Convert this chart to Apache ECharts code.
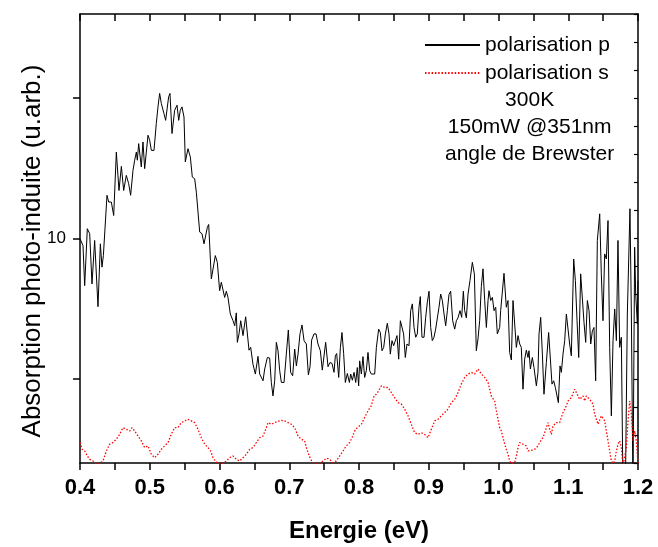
<!DOCTYPE html>
<html>
<head>
<meta charset="utf-8">
<script src="https://cdn.jsdelivr.net/npm/echarts@6/dist/echarts.min.js"></script>
<style>
  html, body { margin: 0; padding: 0; background: #fff; }
  #chart { width: 658px; height: 547px; }
</style>
</head>
<body>
<div id="chart"></div>
<script>
// photon energy (eV) and photo-induced absorption (arb. units), p polarisation
const energyP = [
  0.4000, 0.4043, 0.4067, 0.4091, 0.4105, 0.4139, 0.4172, 0.4210, 0.4258, 0.4292,
  0.4315, 0.4335, 0.4354, 0.4387, 0.4411, 0.4449, 0.4483, 0.4521, 0.4545, 0.4559,
  0.4593, 0.4626, 0.4664, 0.4698, 0.4726, 0.4760, 0.4784, 0.4808, 0.4822, 0.4841,
  0.4865, 0.4879, 0.4903, 0.4927, 0.4951, 0.4975, 0.4999, 0.5023, 0.5061, 0.5094,
  0.5118, 0.5142, 0.5166, 0.5204, 0.5228, 0.5252, 0.5271, 0.5290, 0.5319, 0.5357,
  0.5391, 0.5415, 0.5438, 0.5462, 0.5491, 0.5510, 0.5548, 0.5582, 0.5610, 0.5644,
  0.5668, 0.5692, 0.5716, 0.5749, 0.5778, 0.5802, 0.5826, 0.5845, 0.5883, 0.5907,
  0.5940, 0.5969, 0.6002,
  0.6026, 0.6050, 0.6074, 0.6098, 0.6122, 0.6155, 0.6194, 0.6218, 0.6241, 0.6256,
  0.6280, 0.6304, 0.6337, 0.6375, 0.6423, 0.6447, 0.6480, 0.6514, 0.6552, 0.6576,
  0.6600, 0.6624, 0.6648, 0.6686, 0.6719, 0.6743, 0.6767, 0.6791, 0.6815, 0.6839,
  0.6863, 0.6887, 0.6925, 0.6958, 0.6987, 0.7020, 0.7049, 0.7078, 0.7102, 0.7126,
  0.7154, 0.7183, 0.7212, 0.7245, 0.7274, 0.7298, 0.7321, 0.7355, 0.7384, 0.7412,
  0.7446, 0.7474, 0.7498, 0.7522, 0.7556, 0.7584, 0.7613, 0.7642, 0.7661, 0.7680,
  0.7709, 0.7733, 0.7756, 0.7780, 0.7804, 0.7833, 0.7862, 0.7881, 0.7905, 0.7929,
  0.7953, 0.7976, 0.7995,
  0.8010, 0.8034, 0.8057, 0.8081, 0.8105, 0.8129, 0.8153, 0.8177, 0.8201, 0.8225,
  0.8249, 0.8282, 0.8306, 0.8330, 0.8354, 0.8378, 0.8406, 0.8430, 0.8449, 0.8473,
  0.8497, 0.8521, 0.8545, 0.8569, 0.8593, 0.8617, 0.8640, 0.8664, 0.8688, 0.8717,
  0.8741, 0.8765, 0.8789, 0.8813, 0.8836, 0.8860, 0.8879, 0.8903, 0.8932, 0.8956,
  0.8980, 0.9004, 0.9028, 0.9051, 0.9075, 0.9099, 0.9123, 0.9147, 0.9171, 0.9195,
  0.9219, 0.9243, 0.9267, 0.9290, 0.9314, 0.9343, 0.9372, 0.9396, 0.9419, 0.9448,
  0.9472, 0.9496, 0.9515, 0.9539, 0.9563, 0.9591, 0.9625, 0.9654, 0.9682, 0.9706,
  0.9730, 0.9754, 0.9778, 0.9802, 0.9826, 0.9850, 0.9864, 0.9888, 0.9912, 0.9936,
  0.9960, 0.9983, 1.0017,
  1.0031, 1.0079, 1.0112, 1.0136, 1.0160, 1.0184, 1.0208, 1.0232, 1.0256, 1.0280,
  1.0304, 1.0327, 1.0351, 1.0375, 1.0399, 1.0423, 1.0437, 1.0457, 1.0485, 1.0509,
  1.0543, 1.0566, 1.0581, 1.0605, 1.0629, 1.0652, 1.0686, 1.0719, 1.0743, 1.0767,
  1.0791, 1.0815, 1.0839, 1.0858, 1.0882, 1.0901, 1.0925, 1.0949, 1.0973, 1.0997,
  1.1020, 1.1044, 1.1078, 1.1102, 1.1126, 1.1150, 1.1178, 1.1197, 1.1226, 1.1250,
  1.1274, 1.1298, 1.1322, 1.1346, 1.1369, 1.1393, 1.1417, 1.1451, 1.1474, 1.1498,
  1.1522, 1.1546, 1.1570, 1.1594, 1.1618, 1.1642, 1.1666, 1.1690, 1.1713, 1.1737,
  1.1761, 1.1785, 1.1819, 1.1847, 1.1885, 1.1905, 1.1928, 1.1952, 1.1967, 1.1991,
  1.2000
];
const absP = [
  9.99, 9.75, 8.32, 8.26, 10.35, 10.17, 8.38, 9.93, 7.57, 9.81,
  8.98, 9.39, 9.39, 11.54, 11.30, 11.30, 10.82, 13.08, 13.08, 11.71,
  12.57, 11.71, 12.25, 11.95, 11.54, 12.43, 12.79, 13.08, 12.79, 13.38,
  13.38, 12.55, 13.44, 12.49, 13.08, 13.68, 13.50, 13.14, 13.14, 14.10,
  14.69, 15.17, 14.81, 14.45, 14.21, 14.21, 15.05, 15.17, 13.74, 14.57,
  14.75, 14.21, 14.57, 14.69, 14.33, 12.73, 13.20, 12.90, 12.19, 12.13,
  11.65, 11.60, 10.23, 10.17, 9.81, 9.81, 10.40, 10.50, 8.56, 8.62,
  9.39, 9.15, 8.14,
  8.44, 8.38, 7.90, 8.12, 7.90, 7.31, 7.07, 6.89, 7.35, 6.30,
  6.60, 7.07, 6.54, 7.21, 6.02, 6.12, 5.52, 5.17, 5.80, 5.17,
  5.11, 4.93, 5.35, 5.76, 5.74, 4.87, 4.39, 4.93, 6.30, 6.00,
  5.29, 4.87, 4.87, 5.88, 6.74, 5.23, 5.11, 6.06, 5.46, 5.88,
  6.60, 6.92, 6.36, 6.24, 5.14, 5.43, 6.38, 6.60, 6.60, 6.24,
  6.00, 5.31, 5.35, 6.30, 5.43, 5.58, 5.55, 5.23, 5.82, 5.90,
  5.05, 6.12, 6.65, 5.90, 4.87, 5.19, 4.87, 5.17, 4.95, 5.23,
  4.87, 5.40, 4.75,
  5.64, 5.17, 5.79, 5.05, 5.29, 5.94, 5.29, 5.17, 5.23, 5.17,
  6.12, 6.77, 6.65, 6.00, 6.12, 6.60, 6.98, 6.60, 5.88, 6.36,
  6.18, 6.12, 6.54, 5.70, 7.07, 7.13, 6.60, 5.76, 6.24, 6.18,
  7.43, 7.67, 6.83, 6.48, 6.60, 7.55, 7.93, 6.48, 6.48, 7.19,
  7.73, 8.12, 6.83, 6.36, 6.48, 6.77, 6.77, 7.55, 8.02, 7.79,
  7.31, 6.89, 7.43, 8.00, 8.12, 7.07, 6.77, 7.07, 7.17, 7.43,
  7.19, 8.12, 7.43, 7.17, 8.02, 8.50, 9.15, 8.74, 6.00, 6.42,
  7.07, 8.29, 8.92, 7.79, 6.83, 7.79, 8.14, 7.79, 7.90, 7.43,
  7.55, 6.60, 6.83,
  7.43, 8.76, 7.55, 7.79, 5.94, 5.67, 7.79, 7.85, 6.12, 6.54,
  6.24, 6.12, 4.63, 5.70, 6.02, 5.76, 6.00, 5.35, 5.76, 5.40,
  4.75, 5.23, 6.60, 7.19, 5.88, 4.45, 5.58, 6.65, 6.60, 4.81,
  4.93, 4.69, 4.63, 4.15, 5.46, 5.23, 5.88, 6.36, 7.31, 7.33,
  6.24, 5.82, 9.27, 8.50, 7.07, 5.76, 8.74, 8.80, 7.01, 6.30,
  7.79, 7.43, 6.24, 6.71, 6.83, 4.93, 9.93, 10.88, 8.74, 7.07,
  9.45, 9.27, 10.64, 6.12, 3.68, 6.36, 7.49, 6.36, 9.93, 6.12,
  6.48, 1.00, 1.00, 7.31, 11.06, 7.31, 1.00, 9.69, 8.02, 6.95,
  8.50
];

// s polarisation
const energyS = [
  0.4000, 0.4029, 0.4067, 0.4105, 0.4139, 0.4186, 0.4234, 0.4282, 0.4330, 0.4378,
  0.4425, 0.4473, 0.4521, 0.4569, 0.4616, 0.4664, 0.4712, 0.4746, 0.4784, 0.4832,
  0.4879, 0.4927, 0.4975, 0.5023, 0.5070, 0.5118, 0.5166, 0.5214, 0.5262, 0.5309,
  0.5357, 0.5405, 0.5453, 0.5501, 0.5548, 0.5596, 0.5644, 0.5692, 0.5740, 0.5787,
  0.5835, 0.5873, 0.5907, 0.5940, 0.5978,
  0.6002, 0.6050, 0.6098, 0.6146, 0.6194, 0.6241, 0.6289, 0.6337, 0.6385, 0.6433,
  0.6480, 0.6528, 0.6576, 0.6624, 0.6672, 0.6695, 0.6743, 0.6791, 0.6839, 0.6887,
  0.6934, 0.6982, 0.7030, 0.7078, 0.7126, 0.7173, 0.7221, 0.7245, 0.7269, 0.7307,
  0.7341, 0.7388, 0.7436, 0.7484, 0.7532, 0.7580, 0.7627, 0.7675, 0.7723, 0.7771,
  0.7818, 0.7866, 0.7900, 0.7938, 0.7976,
  0.8034, 0.8081, 0.8129, 0.8177, 0.8215, 0.8249, 0.8282, 0.8320, 0.8368, 0.8416,
  0.8464, 0.8511, 0.8559, 0.8607, 0.8655, 0.8703, 0.8750, 0.8798, 0.8846, 0.8894,
  0.8941, 0.8989, 0.9037, 0.9085, 0.9133, 0.9180, 0.9228, 0.9276, 0.9324, 0.9372,
  0.9419, 0.9467, 0.9515, 0.9563, 0.9611, 0.9658, 0.9706, 0.9754, 0.9802, 0.9850,
  0.9897, 0.9945, 0.9983, 1.0017,
  1.0041, 1.0065, 1.0089, 1.0112, 1.0136, 1.0160, 1.0184, 1.0208, 1.0232, 1.0256,
  1.0280, 1.0304, 1.0327, 1.0351, 1.0375, 1.0399, 1.0423, 1.0447, 1.0471, 1.0495,
  1.0519, 1.0543, 1.0566, 1.0590, 1.0614, 1.0638, 1.0662, 1.0686, 1.0710, 1.0734,
  1.0758, 1.0781, 1.0805, 1.0829, 1.0853, 1.0877, 1.0901, 1.0925, 1.0949, 1.0973,
  1.0997, 1.1020, 1.1044, 1.1068, 1.1092, 1.1116, 1.1140, 1.1164, 1.1188, 1.1212,
  1.1236, 1.1259, 1.1283, 1.1307, 1.1331, 1.1355, 1.1379, 1.1403, 1.1427, 1.1451,
  1.1474, 1.1498, 1.1522, 1.1546, 1.1570, 1.1594, 1.1618, 1.1642, 1.1666, 1.1690,
  1.1713, 1.1737, 1.1761, 1.1785, 1.1809, 1.1833, 1.1857, 1.1881, 1.1905, 1.1928,
  1.1952, 1.1976, 1.2000
];
const absS = [
  2.73, 2.49, 2.43, 2.25, 2.13, 2.07, 1.98, 1.98, 2.07, 2.43,
  2.67, 2.73, 2.85, 3.02, 3.26, 3.20, 3.14, 3.26, 3.14, 2.96,
  2.79, 2.55, 2.61, 2.31, 2.19, 2.31, 2.49, 2.61, 2.73, 3.02,
  3.26, 3.26, 3.44, 3.50, 3.56, 3.50, 3.44, 3.20, 2.90, 2.67,
  2.55, 2.43, 2.19, 2.07, 1.98,
  1.98, 1.98, 2.07, 2.19, 2.25, 2.13, 2.07, 2.19, 2.31, 2.49,
  2.55, 2.73, 2.90, 2.96, 3.26, 3.44, 3.38, 3.44, 3.48, 3.52,
  3.50, 3.44, 3.38, 3.26, 2.96, 2.85, 2.79, 2.55, 2.37, 2.13,
  2.01, 1.98, 1.98, 2.07, 2.17, 2.13, 2.01, 2.07, 2.25, 2.43,
  2.61, 2.73, 2.90, 3.14, 3.26,
  3.38, 3.62, 3.86, 4.04, 4.39, 4.45, 4.57, 4.75, 4.69, 4.69,
  4.51, 4.33, 4.15, 4.10, 3.92, 3.68, 3.38, 3.08, 3.02, 3.08,
  3.02, 2.90, 3.20, 3.50, 3.56, 3.68, 3.80, 3.92, 4.15, 4.27,
  4.51, 4.81, 5.05, 5.17, 5.23, 5.17, 5.35, 5.17, 5.05, 4.87,
  4.39, 4.21, 3.68, 3.26,
  3.14, 2.90, 2.67, 2.49, 2.31, 2.07, 1.98, 1.98, 2.01, 2.25,
  2.55, 2.73, 2.79, 2.67, 2.73, 2.61, 2.43, 2.37, 2.45, 2.43,
  2.49, 2.55, 2.61, 2.73, 2.79, 2.90, 3.08, 3.26, 3.44, 3.20,
  3.02, 3.32, 3.38, 3.44, 3.50, 3.44, 3.62, 3.80, 3.92, 4.04,
  4.21, 4.21, 4.33, 4.39, 4.63, 4.51, 4.45, 4.27, 4.33, 4.39,
  4.21, 4.39, 4.45, 4.27, 4.21, 4.10, 3.74, 3.56, 3.38, 3.44,
  3.68, 3.74, 3.50, 3.14, 2.79, 2.43, 2.07, 1.98, 2.07, 2.43,
  2.67, 2.79, 2.55, 1.90, 1.90, 2.55, 3.50, 4.21, 3.74, 2.79,
  3.14, 2.79, 1.98
];

const xLabels = [0.4, 0.5, 0.6, 0.7, 0.8, 0.9, 1.0, 1.1, 1.2];
const yMajor = [5, 10, 15];
const yLabels = [10];
const notes = ['300K', '150mW @351nm', 'angle de Brewster'];

const font = 'Liberation Sans';
let chartDom = document.getElementById('chart');
let myChart = echarts.init(chartDom, null, {renderer: 'canvas'});

function pairs(xs, ys) {
    let out = [];
    for (let i = 0; i < xs.length; i++) {
        out.push([xs[i], ys[i]]);
    }
    return out;
}

const axisLine = {show: true, onZero: false, lineStyle: {color: '#000', width: 1.5}};

let option = {
    animation: false,
    backgroundColor: '#fff',
    textStyle: {fontFamily: font, color: '#000'},
    grid: {left: 80, right: 20, top: 14, bottom: 84, containLabel: false, outerBoundsMode: 'none'},
    legend: {
        orient: 'vertical',
        left: 419,
        top: 29,
        itemWidth: 55,
        itemHeight: 14,
        itemGap: 6,
        itemStyle: {color: 'rgba(0,0,0,0)', borderWidth: 0, opacity: 0},
        textStyle: {fontFamily: font, fontSize: 21, color: '#000', lineHeight: 22},
        data: ['polarisation p', 'polarisation s']
    },
    graphic: [{
        type: 'text',
        left: 535 - 90,
        top: 87,
        style: {
            text: notes.join('\n'),
            x: 90,
            textAlign: 'center',
            font: '21px "' + font + '"',
            lineHeight: 27,
            fill: '#000'
        }
    }],
    xAxis: [{
        type: 'value',
        position: 'bottom',
        min: 0.4,
        max: 1.2,
        interval: 0.05,
        axisLine: axisLine,
        axisTick: {show: true, inside: false, length: 7, lineStyle: {color: '#000', width: 1.5}},
        axisLabel: {
            customValues: xLabels,
            formatter: v => v.toFixed(1),
            fontFamily: font,
            fontSize: 22,
            fontWeight: 'bold',
            color: '#000',
            margin: 14
        },
        splitLine: {show: false},
        name: 'Energie (eV)',
        nameLocation: 'middle',
        nameGap: 56,
        nameTextStyle: {fontFamily: font, fontSize: 24, fontWeight: 'bold', color: '#000'}
    }, {
        type: 'value',
        position: 'top',
        min: 0.4,
        max: 1.2,
        interval: 0.05,
        axisLine: axisLine,
        axisTick: {show: true, inside: true, length: 7, lineStyle: {color: '#000', width: 1.5}},
        axisLabel: {show: false},
        splitLine: {show: false}
    }],
    yAxis: [{
        type: 'value',
        position: 'left',
        min: 2,
        max: 18,
        axisLine: axisLine,
        axisTick: {show: true, inside: false, length: 7, customValues: yMajor, lineStyle: {color: '#000', width: 1.5}},
        axisLabel: {customValues: yLabels, fontFamily: font, fontSize: 17, color: '#000', margin: 14},
        splitLine: {show: false},
        name: 'Absorption photo-induite (u.arb.)',
        nameLocation: 'middle',
        nameGap: 34,
        nameMoveOverlap: false,
        nameTextStyle: {fontFamily: font, fontSize: 26, color: '#000', padding: [0, 25, 0, 0]}
    }, {
        type: 'value',
        position: 'right',
        min: 2,
        max: 18,
        interval: 1,
        axisLine: axisLine,
        axisTick: {show: true, inside: true, length: 4, lineStyle: {color: '#000', width: 1.2}},
        axisLabel: {show: false},
        splitLine: {show: false}
    }],
    series: [{
        name: 'polarisation p',
        type: 'line',
        xAxisIndex: 0,
        yAxisIndex: 0,
        symbol: 'none',
        clip: true,
        data: pairs(energyP, absP),
        lineStyle: {color: '#000', width: 1},
        itemStyle: {color: '#000'}
    }, {
        name: 'polarisation s',
        type: 'line',
        xAxisIndex: 0,
        yAxisIndex: 0,
        symbol: 'none',
        clip: true,
        data: pairs(energyS, absS),
        lineStyle: {color: '#ff0000', width: 1.3, type: [1.5, 1.8]},
        itemStyle: {color: '#ff0000'}
    }]
};
option && myChart.setOption(option);
</script>
</body>
</html>
